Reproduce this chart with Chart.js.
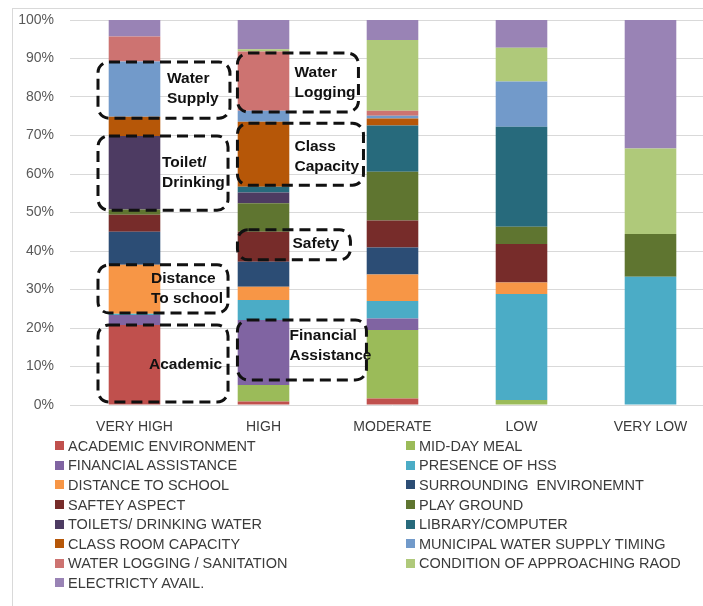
<!DOCTYPE html>
<html>
<head>
<meta charset="utf-8">
<script src="https://cdn.jsdelivr.net/npm/chart.js@4/dist/chart.umd.min.js"></script>
<style>
  html, body { margin: 0; padding: 0; background: #ffffff; }
  body { width: 703px; height: 606px; overflow: hidden; position: relative; font-family: "Liberation Sans", Arial, sans-serif; }
  #frame { position: absolute; left: 12px; top: 8px; width: 760px; height: 640px; border-left: 1px solid #d9d9d9; border-top: 1px solid #d9d9d9; }
  #wrap { position: absolute; left: 0; top: 0; width: 720px; height: 440px; }
  #legend { position: absolute; left: 55px; top: 436px; display: grid; grid-template-columns: 351px 300px; grid-auto-rows: 19.6px; }
  .item { display: flex; align-items: center; font-size: 14.5px; color: #3b3b3b; white-space: pre; }
  .swatch { width: 9px; height: 9px; margin-right: 4px; flex: none; }
</style>
</head>
<body>
<div id="frame"></div>
<div id="wrap"><canvas id="chart" width="720" height="440"></canvas></div>
<div id="legend"></div>
<script>
// Categories on the x axis
const categories = ['VERY HIGH', 'HIGH', 'MODERATE', 'LOW', 'VERY LOW'];

// Share (%) of each factor within every category
const academicEnvironment    = [20.8,  0.9,  1.7,  0.0,  0.0];
const midDayMeal             = [ 0.0,  4.3, 17.8,  1.3,  0.0];
const financialAssistance    = [ 2.6, 16.9,  3.0,  0.0,  0.0];
const presenceOfHss          = [ 0.3,  5.2,  4.5, 27.5, 33.3];
const distanceToSchool       = [12.7,  3.4,  6.9,  3.0,  0.0];
const surroundingEnvironment = [ 8.6,  6.5,  7.0,  0.0,  0.0];
const safetyAspect           = [ 4.4,  7.8,  7.0, 10.0,  0.0];
const playGround             = [ 1.4,  7.4, 12.7,  4.5, 11.1];
const toiletsDrinkingWater   = [19.1,  2.8,  0.0,  0.0,  0.0];
const libraryComputer        = [ 0.0,  1.5, 12.0, 26.0,  0.0];
const classRoomCapacity      = [ 5.0, 16.9,  1.8,  0.0,  0.0];
const municipalWaterSupply   = [14.3,  2.8,  0.7, 11.7,  0.0];
const waterLogging           = [ 6.5, 15.4,  1.3,  0.0,  0.0];
const approachingRoad        = [ 0.0,  0.6, 18.4,  8.8, 22.2];
const electricityAvail       = [ 4.3,  7.6,  5.2,  7.2, 33.4];

// Series names, in stacking order (bottom to top)
const seriesLabels = [
  'ACADEMIC ENVIRONMENT', 'MID-DAY MEAL',
  'FINANCIAL ASSISTANCE', 'PRESENCE OF HSS',
  'DISTANCE TO SCHOOL', 'SURROUNDING  ENVIRONEMNT',
  'SAFTEY ASPECT', 'PLAY GROUND',
  'TOILETS/ DRINKING WATER', 'LIBRARY/COMPUTER',
  'CLASS ROOM CAPACITY', 'MUNICIPAL WATER SUPPLY TIMING',
  'WATER LOGGING / SANITATION', 'CONDITION OF APPROACHING RAOD',
  'ELECTRICTY AVAIL.'
];

// Y axis tick values (percent)
const yTickValues = [0, 10, 20, 30, 40, 50, 60, 70, 80, 90, 100];

const seriesValues = [
  academicEnvironment, midDayMeal, financialAssistance, presenceOfHss,
  distanceToSchool, surroundingEnvironment, safetyAspect, playGround,
  toiletsDrinkingWater, libraryComputer, classRoomCapacity, municipalWaterSupply,
  waterLogging, approachingRoad, electricityAvail
];

const seriesColors = [
  '#c0504d', '#9bbb59', '#8064a2', '#4bacc6', '#f79646', '#2c4d75', '#772c2a',
  '#5f7530', '#4d3b62', '#276a7c', '#b65708', '#729aca', '#cd7371', '#afc97a', '#9983b5'
];

// Dashed call-out boxes: x in category units, y in percent
const callouts = [
  { lines: ['Water', 'Supply'],        box: [-0.283, 0.740, 74.5, 89.1], text: [0.252, 82.1] },
  { lines: ['Toilet/', 'Drinking'],    box: [-0.283, 0.725, 50.6, 69.9], text: [0.213, 60.3] },
  { lines: ['Distance', 'To school'],  box: [-0.283, 0.725, 23.9, 36.4], text: [0.128, 30.1] },
  { lines: ['Academic'],               box: [-0.283, 0.725,  0.8, 20.8], text: [0.112, 10.4] },
  { lines: ['Water', 'Logging'],       box: [ 0.798, 1.736, 76.1, 91.4], text: [1.240, 83.8] },
  { lines: ['Class', 'Capacity'],      box: [ 0.798, 1.775, 57.1, 73.2], text: [1.240, 64.4] },
  { lines: ['Safety'],                 box: [ 0.798, 1.674, 37.7, 45.5], text: [1.225, 41.8] },
  { lines: ['Financial', 'Assistance'],box: [ 0.798, 1.798,  6.5, 22.1], text: [1.202, 15.3] }
];

const calloutPlugin = {
  id: 'callouts',
  afterDatasetsDraw(chart) {
    const ctx = chart.ctx;
    const xs = chart.scales.x, ys = chart.scales.y;
    const x0 = xs.getPixelForValue(0), step = xs.getPixelForValue(1) - x0;
    const px = u => x0 + u * step;
    const py = v => ys.getPixelForValue(v);
    ctx.save();
    callouts.forEach(c => {
      const l = px(c.box[0]), r = px(c.box[1]);
      const b = py(c.box[2]), t = py(c.box[3]);
      const rad = 11;
      ctx.beginPath();
      ctx.moveTo(l + rad, t);
      ctx.lineTo(r - rad, t);
      ctx.arcTo(r, t, r, t + rad, rad);
      ctx.lineTo(r, b - rad);
      ctx.arcTo(r, b, r - rad, b, rad);
      ctx.lineTo(l + rad, b);
      ctx.arcTo(l, b, l, b - rad, rad);
      ctx.lineTo(l, t + rad);
      ctx.arcTo(l, t, l + rad, t, rad);
      ctx.closePath();
      ctx.setLineDash([11, 6]);
      ctx.lineWidth = 3;
      ctx.strokeStyle = '#111111';
      ctx.stroke();

      ctx.setLineDash([]);
      ctx.fillStyle = '#111111';
      ctx.font = 'bold 15.5px "Liberation Sans", Arial, sans-serif';
      ctx.textAlign = 'left';
      ctx.textBaseline = 'middle';
      const lh = 20;
      const cy = py(c.text[1]);
      const startY = cy - (c.lines.length - 1) * lh / 2;
      c.lines.forEach((s, i) => ctx.fillText(s, px(c.text[0]), startY + i * lh));
    });
    ctx.restore();
  }
};

const chart = new Chart(document.getElementById('chart'), {
  type: 'bar',
  data: {
    labels: categories,
    datasets: seriesLabels.map((name, i) => ({
      label: name,
      data: seriesValues[i],
      backgroundColor: seriesColors[i],
      borderWidth: 0,
      barPercentage: 0.4,
      categoryPercentage: 1.0
    }))
  },
  options: {
    responsive: false,
    devicePixelRatio: 1,
    animation: false,
    layout: { padding: { left: 0, top: 20, right: 5, bottom: 0 } },
    plugins: { legend: { display: false }, tooltip: { enabled: false } },
    scales: {
      x: {
        stacked: true,
        grid: { display: false, drawTicks: false },
        border: { display: false },
        ticks: { color: '#3b3b3b', font: { size: 14, family: '"Liberation Sans", Arial, sans-serif' }, padding: 14, maxRotation: 0 },
        afterFit(scale) { scale.height = 35; }
      },
      y: {
        stacked: true,
        min: 0,
        max: 100,
        afterBuildTicks(scale) { scale.ticks = yTickValues.map(v => ({ value: v })); },
        grid: { color: '#d9d9d9', lineWidth: 1, drawTicks: false },
        border: { display: false },
        ticks: {
          color: '#595959',
          font: { size: 14, family: '"Liberation Sans", Arial, sans-serif' },
          padding: 16,
          callback: v => v + '%'
        },
        afterFit(scale) {
          scale.width = 70;
          scale.paddingTop = 0;
          scale.paddingBottom = 0;
        }
      }
    }
  },
  plugins: [calloutPlugin]
});

// Two-column legend built from the chart's datasets
const legendEl = document.getElementById('legend');
chart.data.datasets.forEach(ds => {
  const item = document.createElement('div');
  item.className = 'item';
  const sw = document.createElement('span');
  sw.className = 'swatch';
  sw.style.background = ds.backgroundColor;
  const tx = document.createElement('span');
  tx.textContent = ds.label;
  item.appendChild(sw);
  item.appendChild(tx);
  legendEl.appendChild(item);
});
</script>
</body>
</html>
